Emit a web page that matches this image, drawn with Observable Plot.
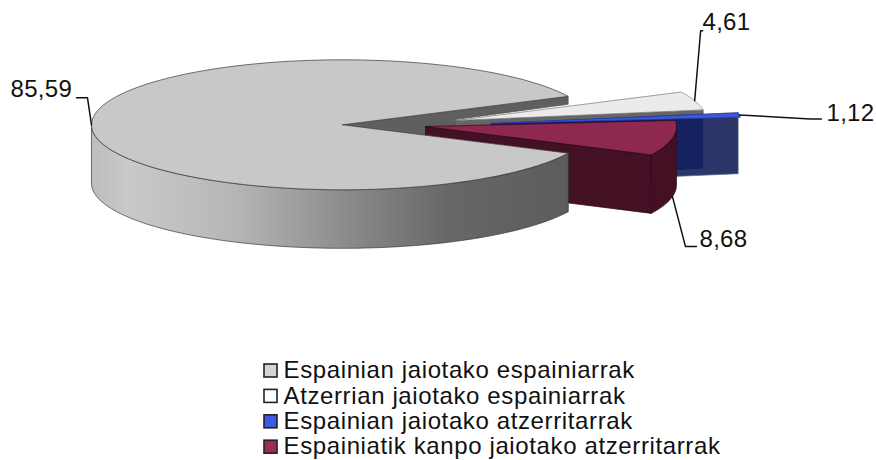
<!DOCTYPE html>
<html><head><meta charset="utf-8">
<script src="https://cdn.jsdelivr.net/npm/d3@7"></script>
<script src="https://cdn.jsdelivr.net/npm/@observablehq/plot@0.6"></script>
<style>html,body{margin:0;background:#fff}svg{display:block;background:#fff}
.legendText text{letter-spacing:.62px}.valueText text{letter-spacing:.3px}</style>
</head><body><div id="chart"></div>
<script>
// Data
const categories = ["Espainian jaiotako espainiarrak","Atzerrian jaiotako espainiarrak","Espainian jaiotako atzerritarrak","Espainiatik kanpo jaiotako atzerritarrak"];
const values = [85.59, 4.61, 1.12, 8.68];

// Styles
const topColors = ["#c8c8c8","#ebebeb","#3c58d8","#8e2850"];
const swatchColors = ["#d4d4d4","#ffffff","#3d5be0","#9c2a5c"];

// Pie layout (pixel space of the picture)
const W = 876, H = 460, RX = 251, RY = 65, DEPTH = 58.5, START = 25.9;
const centers = [[342,124.3],[455,120],[490,122.8],[425,126]];
const leaderOffsets = [[[-4,-27],[-15,-27]],[[6,-70],[8,-70]],[[71,4],[82,4]],[[13,50],[24,50]]];
const labelPos = [[10,89],[702,22],[826,113],[699,239]];

const rad = d => d * Math.PI / 180;
let acc = START;
const slices = values.map((v, i) => {
  const turn = i === 0 ? 0 : -360;            // the small slices are read as angles around 0
  const a0 = acc + turn; acc += v * 3.6;
  const a1 = acc + turn;
  return {a0, a1, mid: (a0 + a1) / 2, c: centers[i]};
});
const pt = (s, a, dz = 0) => [s.c[0] + RX * Math.cos(rad(a)), s.c[1] + RY * Math.sin(rad(a)) + dz];
const arc = (s, a0, a1, dz = 0) => d3.range(0, 121).map(k => pt(s, a0 + (a1 - a0) * k / 120, dz));
const at = (s, dz = 0) => [s.c[0], s.c[1] + dz];
const close = p => [...p, p[0]];
const poly = (p, fill, stroke = "#3a3a3a", strokeWidth = 0.7) =>
  Plot.line(close(p), {x: d => d[0], y: d => d[1], fill, stroke, strokeWidth, strokeLinejoin: "round"});

const [gray, white, blue, maroon] = slices;
const defs = () => {
  const d = d3.create("svg:defs");
  const g = d.append("linearGradient").attr("id","wallGrad").attr("gradientUnits","userSpaceOnUse")
    .attr("x1",91).attr("x2",567).attr("y1",0).attr("y2",0);
  [[0,"#bdbdbd"],[0.08,"#c9c9c9"],[0.3,"#b6b6b6"],[0.52,"#8e8e8e"],[0.75,"#676767"],[1,"#5c5c5c"]]
    .forEach(([o,c]) => g.append("stop").attr("offset",o).attr("stop-color",c));
  return d.node();
};

const grayEnd = pt(gray, gray.a1);
const whiteEnd = pt(white, white.a1);
const marks = [
  defs,
  // inner wall of the big slice, seen through the notch
  poly([at(gray), grayEnd, [grayEnd[0], grayEnd[1] + 8], [white.c[0], white.c[1] - 1], [white.c[0], white.c[1] + 20]], "#5f5f5f", "#555"),
  // white slice
  poly([at(white), whiteEnd, pt(white, white.a1, DEPTH), at(white, DEPTH)], "#666666", "#555"),
  poly([at(white), ...arc(white, white.a0, white.a1)], topColors[1], "#777"),
  // blue slice wall: lighter whole, darker where the white slice stands behind it
  poly([at(blue), pt(blue, blue.a0), pt(blue, blue.a0, DEPTH + 2.5), at(blue, DEPTH + 2.5)], "#2b3568", "#666a80"),
  poly([at(blue), [whiteEnd[0], blue.c[1] - 9.5], [whiteEnd[0], whiteEnd[1] + DEPTH], at(blue, DEPTH)], "#15225f", "none"),
  poly([at(blue), ...arc(blue, blue.a0, blue.a1)], topColors[2], "#2b3ca8"),
  // maroon slice
  poly([at(maroon), pt(maroon, maroon.a1), pt(maroon, maroon.a1, DEPTH), at(maroon, DEPTH)], "#431024", "#2a0a16"),
  poly([...arc(maroon, maroon.a1, 0), ...arc(maroon, 0, maroon.a1, DEPTH)], "#431024", "#2a0a16"),
  poly([at(maroon), ...arc(maroon, maroon.a0, maroon.a1)], topColors[3], "#2a0a16"),
  // big slice: outer wall and top
  poly([...arc(gray, gray.a0, 180), ...arc(gray, 180, gray.a0, DEPTH)], "url(#wallGrad)", "#3a3a3a"),
  poly([at(gray), ...arc(gray, gray.a0, gray.a1)], topColors[0], "#3a3a3a"),
  // leader lines
  ...slices.map((s, i) => {
    const a = pt(s, s.mid, i === 3 ? DEPTH : 0);
    return Plot.line([a, ...leaderOffsets[i].map(o => [a[0] + o[0], a[1] + o[1]])],
      {x: d => d[0], y: d => d[1], stroke: "#111", strokeWidth: 1.5});
  }),
  // value labels
  Plot.text(values, {x: (d, i) => labelPos[i][0], y: (d, i) => labelPos[i][1], className: "valueText",
    text: d => d.toFixed(2).replace(".", ","), textAnchor: "start", fontSize: 24, fill: "#111"}),
  // legend
  Plot.rect(categories, {x1: 264, x2: 277, y1: (d, i) => 364 + i * 25.4, y2: (d, i) => 377 + i * 25.4,
    fill: (d, i) => swatchColors[i], stroke: "#222", strokeWidth: 1.6}),
  Plot.text(categories, {x: 283, y: (d, i) => 370 + i * 25.4, text: d => d, className: "legendText",
    textAnchor: "start", fontSize: 24, fill: "#111"})
];

const chart = Plot.plot({
  width: W, height: H, margin: 0, style: {fontFamily: "'Liberation Sans', Arial, sans-serif", background: "#fff"},
  x: {domain: [0, W], range: [0, W], axis: null},
  y: {domain: [0, H], range: [0, H], axis: null},
  marks
});
document.getElementById("chart").append(chart);
</script></body></html>
